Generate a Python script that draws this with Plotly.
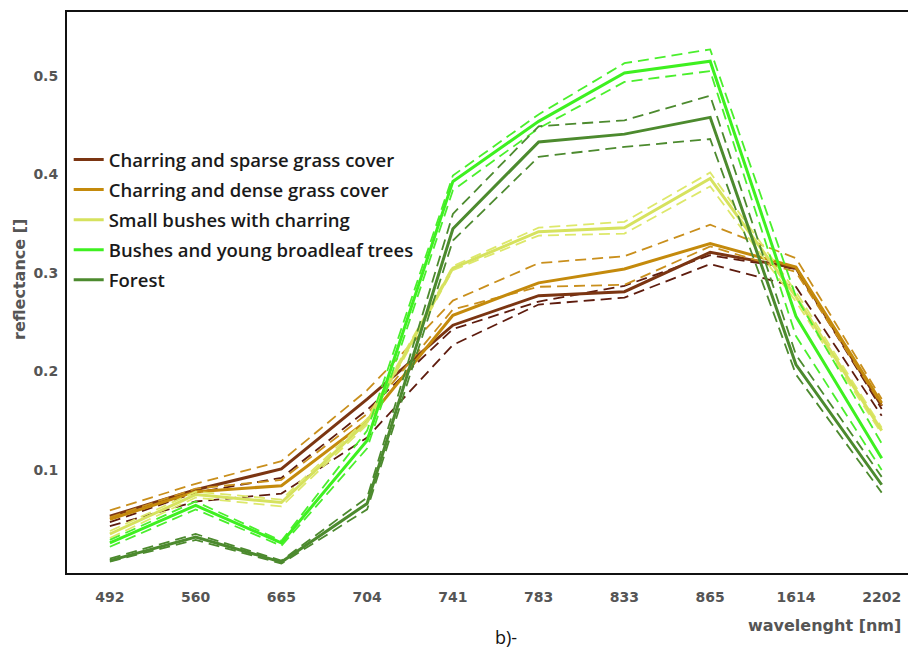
import plotly.graph_objects as go

wavelengths = ["492", "560", "665", "704", "741", "783", "833", "865", "1614", "2202"]
y_ticks = [0.1, 0.2, 0.3, 0.4, 0.5]

sparse_mean = [0.053, 0.080, 0.101, 0.172, 0.247, 0.277, 0.281, 0.321, 0.305, 0.165]
sparse_d1 = [0.047, 0.077, 0.092, 0.161, 0.243, 0.271, 0.287, 0.318, 0.304, 0.162]
sparse_d2 = [0.043, 0.068, 0.076, 0.133, 0.227, 0.268, 0.275, 0.309, 0.286, 0.155]

dense_mean = [0.050, 0.078, 0.084, 0.150, 0.257, 0.290, 0.304, 0.330, 0.306, 0.168]
dense_up = [0.059, 0.086, 0.109, 0.181, 0.272, 0.310, 0.317, 0.349, 0.315, 0.172]
dense_lo = [0.052, 0.081, 0.090, 0.157, 0.263, 0.286, 0.288, 0.327, 0.301, 0.166]

small_mean = [0.035, 0.075, 0.067, 0.149, 0.305, 0.342, 0.346, 0.396, 0.276, 0.140]
small_up = [0.038, 0.078, 0.070, 0.152, 0.307, 0.346, 0.352, 0.402, 0.281, 0.143]
small_lo = [0.031, 0.072, 0.063, 0.146, 0.303, 0.338, 0.340, 0.388, 0.271, 0.137]

bushes_mean = [0.026, 0.064, 0.026, 0.130, 0.393, 0.454, 0.503, 0.515, 0.256, 0.112]
bushes_up = [0.029, 0.068, 0.028, 0.140, 0.399, 0.461, 0.513, 0.527, 0.276, 0.127]
bushes_lo = [0.022, 0.060, 0.023, 0.122, 0.384, 0.447, 0.494, 0.505, 0.236, 0.100]

forest_mean = [0.008, 0.032, 0.0065, 0.066, 0.345, 0.433, 0.441, 0.458, 0.207, 0.085]
forest_up = [0.010, 0.035, 0.008, 0.072, 0.360, 0.449, 0.455, 0.480, 0.217, 0.093]
forest_lo = [0.007, 0.029, 0.005, 0.060, 0.333, 0.418, 0.428, 0.436, 0.197, 0.077]

series = [
    ("Charring and sparse grass cover", sparse_mean, [sparse_d1, sparse_d2], "#7b3512", "#5e1c0e"),
    ("Charring and dense grass cover", dense_mean, [dense_up, dense_lo], "#c48a0c", "#c98f1c"),
    ("Small bushes with charring", small_mean, [small_up, small_lo], "#d6e25e", "#dde86a"),
    ("Bushes and young broadleaf trees", bushes_mean, [bushes_up, bushes_lo], "#3ef020", "#4aef2c"),
    ("Forest", forest_mean, [forest_up, forest_lo], "#4c8a2e", "#4c8a2e"),
]

fig = go.Figure()
for i, (name, mean, dashes, c_solid, c_dash) in enumerate(series):
    for d in dashes:
        fig.add_trace(go.Scatter(
            x=wavelengths, y=d, mode="lines", legendgroup=f"g{i}", showlegend=False,
            line=dict(color=c_dash, width=1.8, dash="11px,6px"), hoverinfo="skip"))
    fig.add_trace(go.Scatter(
        x=wavelengths, y=mean, mode="lines", name=name, legendgroup=f"g{i}",
        line=dict(color=c_solid, width=3)))

# page body has an 8px margin; figure is sized/offset to compensate
W, H, L, R, T, B = 908, 642, 59, 0, 4, 77
OFF = 8
pw, ph = W - L - R, H - T - B

fig.update_layout(
    width=W, height=H,
    margin=dict(l=L, r=R, t=T, b=B, autoexpand=False),
    paper_bgcolor="white", plot_bgcolor="white",
    showlegend=True,
    legend=dict(
        x=0.002, y=0.770, xanchor="left", yanchor="top",
        bgcolor="rgba(0,0,0,0)", borderwidth=0,
        font=dict(family="Open Sans", size=18.5, color="#1a1a1a", weight=600),
        itemwidth=30, tracegroupgap=3, traceorder="grouped",
    ),
    xaxis=dict(
        type="category", range=[-0.5, 9.4],
        showgrid=False, zeroline=False,
        showline=True, linecolor="#111", linewidth=2, mirror=True,
        ticks="", ticklabelstandoff=10,
        tickfont=dict(family="DejaVu Sans", size=14, color="#555", weight="bold"),
    ),
    yaxis=dict(
        range=[-0.0046, 0.565], tickvals=y_ticks, ticktext=[f"{v:.1f}" for v in y_ticks],
        showgrid=False, zeroline=False,
        showline=True, linecolor="#111", linewidth=2, mirror=False,
        ticks="", ticklabelstandoff=4,
        tickfont=dict(family="DejaVu Sans", size=14, color="#555", weight="bold"),
    ),
)

ann_specs = [
    ("wavelenght [nm]", 903, 625, 0, "DejaVu Sans", 16, "#555", "bold", "right"),
    ("reflectance []", 20, 280, -90, "DejaVu Sans", 16, "#555", "bold", "center"),
    ("b)-", 506, 637, 0, "Open Sans", 18, "#111", "normal", "center"),
]
anns = []
for text, px, py, ang, fam, size, color, weight, xanchor in ann_specs:
    fx, fy = px - OFF, py - OFF
    anns.append(dict(
        text=text, textangle=ang, showarrow=False,
        xref="paper", yref="paper",
        x=(fx - L) / pw, y=(H - B - fy) / ph,
        xanchor=xanchor, yanchor="middle",
        font=dict(family=fam, size=size, color=color, weight=weight),
    ))
fig.update_layout(annotations=anns)

fig.write_html("out.html")
